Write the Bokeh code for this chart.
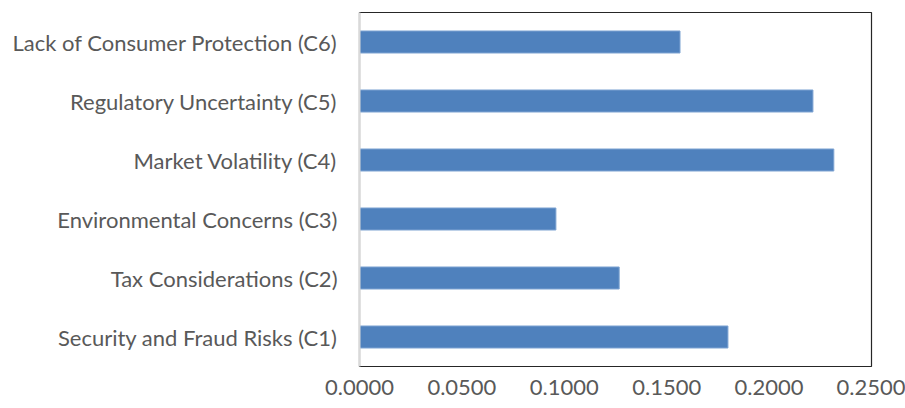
from bokeh.plotting import figure
from bokeh.models import FactorRange, Range1d, FixedTicker, NumeralTickFormatter, ColumnDataSource
from bokeh.embed import file_html
from bokeh.resources import INLINE

categories = [
    "Security and Fraud Risks (C1)",
    "Tax Considerations (C2)",
    "Environmental Concerns (C3)",
    "Market Volatility (C4)",
    "Regulatory Uncertainty (C5)",
    "Lack of Consumer Protection (C6)",
]
weights = [0.1799, 0.1268, 0.0959, 0.2316, 0.2214, 0.1565]
x_ticks = [0.0, 0.05, 0.10, 0.15, 0.20, 0.25]

src = ColumnDataSource(dict(cat=categories, w=weights))

p = figure(width=905, height=408, output_backend="svg", toolbar_location=None,
           y_range=FactorRange(factors=categories, range_padding=0),
           x_range=Range1d(0, 0.25),
           min_border_left=359, min_border_right=34, min_border_top=12, min_border_bottom=42)

p.hbar(y="cat", right="w", left=0, height=0.373, source=src,
       fill_color="#4f81bd", line_color="#7ea3d2", line_width=1)

p.xgrid.visible = False
p.ygrid.visible = False
p.outline_line_color = "#262626"
p.outline_line_width = 1.2
p.background_fill_color = "white"
p.border_fill_color = "white"

font = "Lato"
p.xaxis.ticker = FixedTicker(ticks=x_ticks)
p.xaxis.formatter = NumeralTickFormatter(format="0.0000")
p.xaxis.axis_line_color = None
p.xaxis.major_tick_line_color = None
p.xaxis.minor_tick_line_color = None
p.xaxis.major_label_standoff = 7
p.xaxis.major_label_text_font = font
p.xaxis.major_label_text_font_size = "22px"
p.xaxis.major_label_text_color = "#595959"

p.yaxis.axis_line_color = "#d9d9d9"
p.yaxis.axis_line_width = 2
p.yaxis.major_tick_line_color = None
p.yaxis.minor_tick_line_color = None
p.yaxis.major_label_standoff = 16
p.yaxis.major_label_text_font = font
p.yaxis.major_label_text_font_size = "22px"
p.yaxis.major_label_text_color = "#595959"

open("out.html", "w").write(file_html(p, INLINE))
